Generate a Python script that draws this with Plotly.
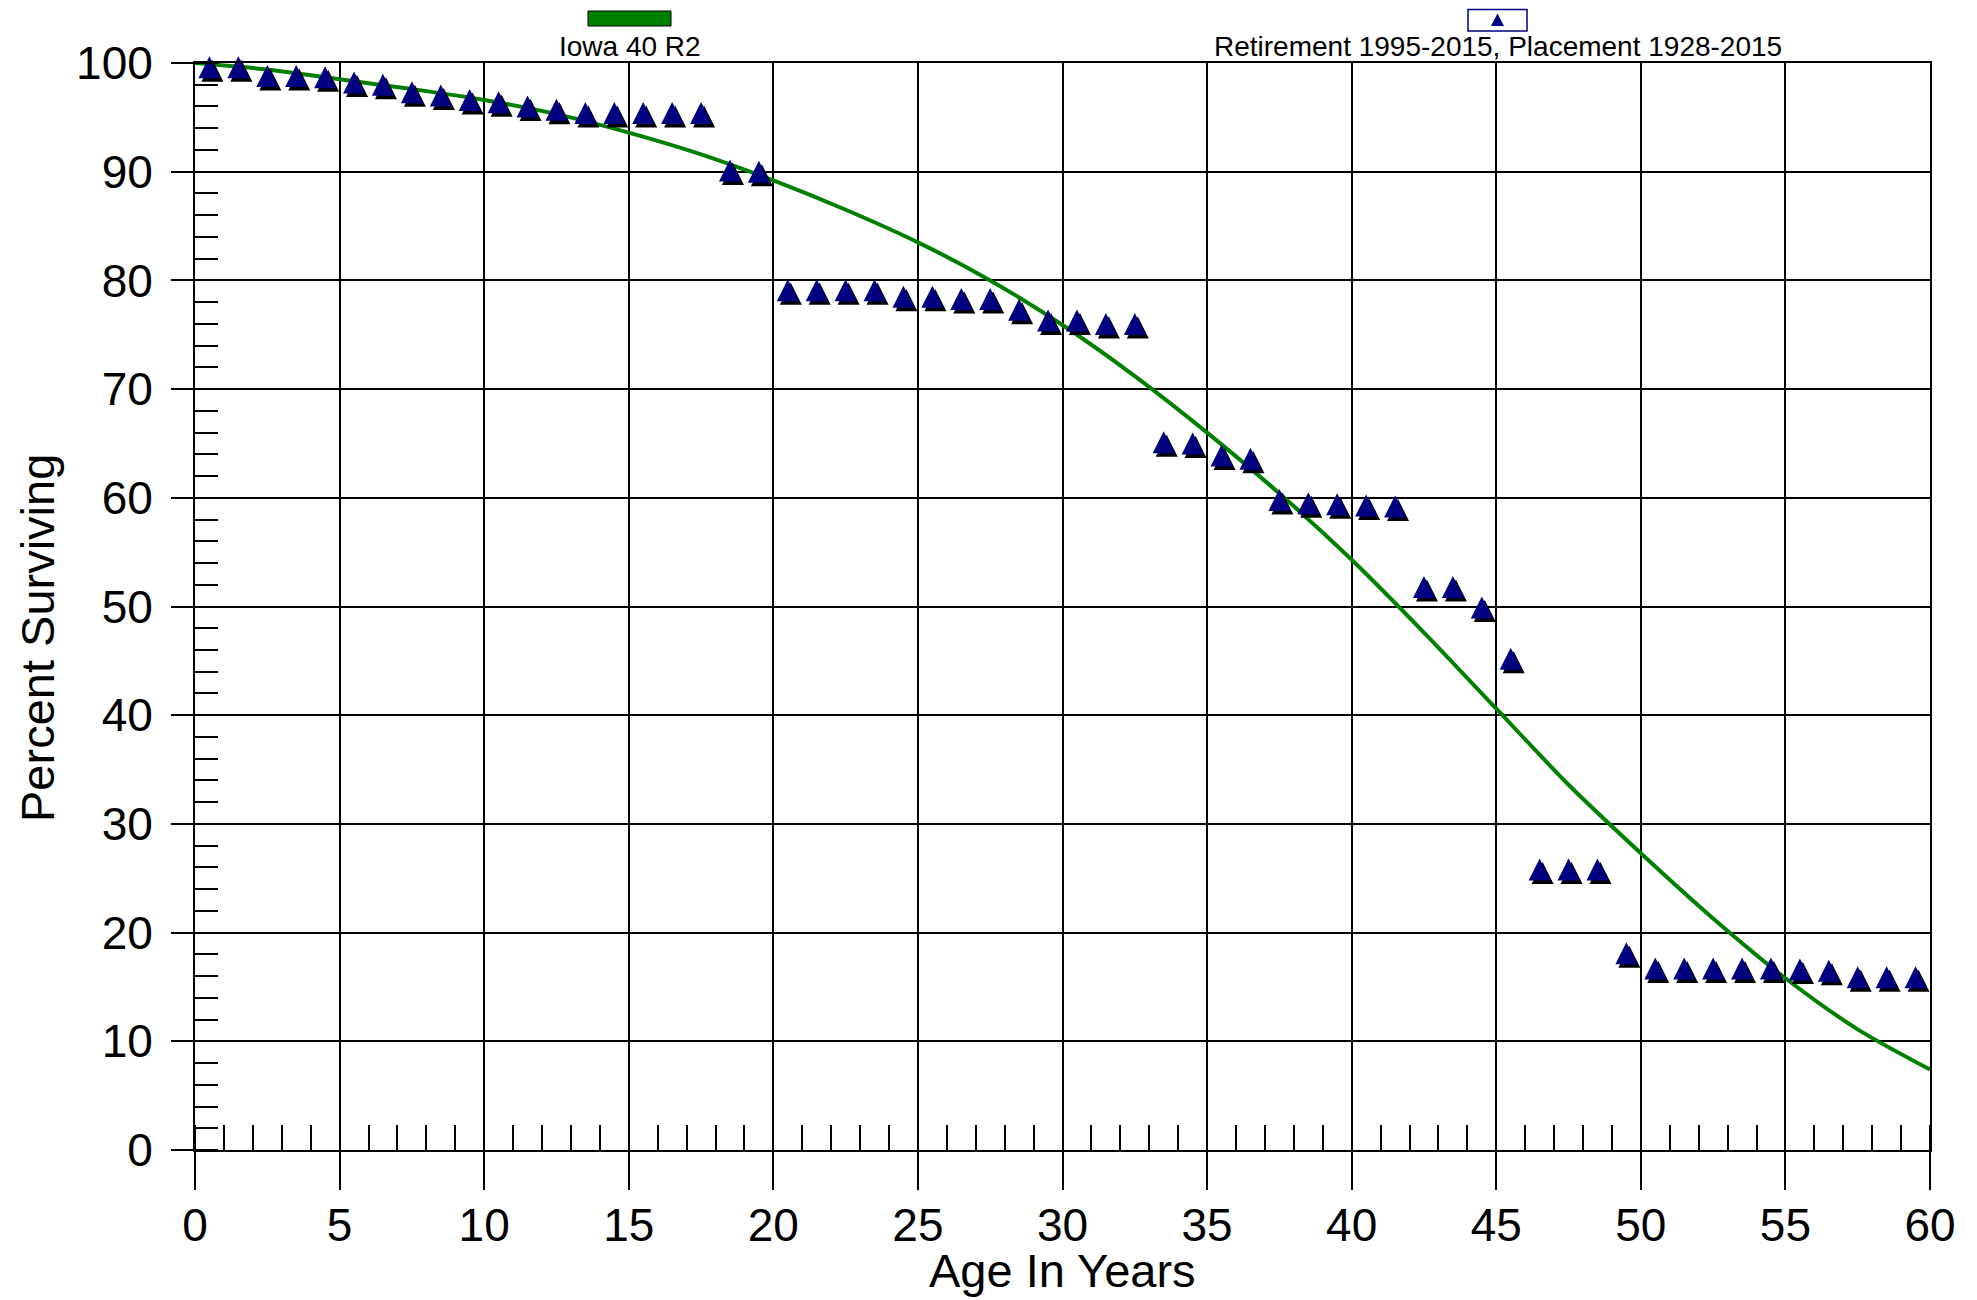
import plotly.graph_objects as go

# ---------------- data ----------------
ages = [0.5, 1.5, 2.5, 3.5, 4.5, 5.5, 6.5, 7.5, 8.5, 9.5,
        10.5, 11.5, 12.5, 13.5, 14.5, 15.5, 16.5, 17.5, 18.5, 19.5,
        20.5, 21.5, 22.5, 23.5, 24.5, 25.5, 26.5, 27.5, 28.5, 29.5,
        30.5, 31.5, 32.5, 33.5, 34.5, 35.5, 36.5, 37.5, 38.5, 39.5,
        40.5, 41.5, 42.5, 43.5, 44.5, 45.5, 46.5, 47.5, 48.5, 49.5,
        50.5, 51.5, 52.5, 53.5, 54.5, 55.5, 56.5, 57.5, 58.5, 59.5]
pct_surviving = [99.6, 99.6, 98.8, 98.8, 98.7, 98.2, 98.0, 97.3, 97.0, 96.6,
                 96.4, 96.0, 95.7, 95.4, 95.4, 95.4, 95.4, 95.4, 90.1, 90.0,
                 79.1, 79.1, 79.1, 79.1, 78.5, 78.5, 78.3, 78.3, 77.3, 76.3,
                 76.3, 76.0, 76.0, 65.1, 65.0, 63.9, 63.6, 59.8, 59.5, 59.4,
                 59.3, 59.2, 51.8, 51.8, 49.9, 45.2, 25.8, 25.8, 25.8, 18.1,
                 16.7, 16.7, 16.7, 16.7, 16.7, 16.6, 16.5, 15.9, 15.9, 15.9]

curve_ages = [0, 2.5, 5, 7.5, 10, 12.5, 15, 17.5, 20, 22.5, 25, 27.5, 30,
              32.5, 35, 37.5, 40, 42.5, 45, 47.5, 50, 52.5, 55, 57.5, 60]
curve_pct = [100.0, 99.4, 98.5, 97.6, 96.6, 95.3, 93.6, 91.6, 89.2, 86.5, 83.5, 80.0, 75.9,
             71.2, 66.0, 60.4, 54.3, 47.6, 40.6, 33.6, 27.3, 21.3, 15.8, 11.1, 7.4]

x_ticks = [0, 5, 10, 15, 20, 25, 30, 35, 40, 45, 50, 55, 60]
y_ticks = [0, 10, 20, 30, 40, 50, 60, 70, 80, 90, 100]

curve_label = "Iowa 40 R2"
obs_label = "Retirement 1995-2015, Placement 1928-2015"
x_title = "Age In Years"
y_title = "Percent Surviving"

# ---------------- layout geometry (screen pixels) ----------------
W, H = 1977, 1300
OFF = 8                      # page body margin of the html page
PL, PR, PT, PB = 195, 1930, 63, 1150   # plot area on screen
PW = PR - PL
PH = PB - PT
L = PL - OFF
T = PT - OFF
R = W - L - PW
B = H - T - PH


def px_x(px):
    return (px - PL) / PW


def px_y(py):
    return (PB - py) / PH


FONT = "Liberation Sans, Arial, sans-serif"
NAVY = "#000080"
GREEN = "#008000"

# shadow offset of the markers (in pixels, converted to data units)
dx = 3.0 * (x_ticks[-1] - x_ticks[0]) / PW
dy = 3.5 * (y_ticks[-1] - y_ticks[0]) / PH

MS = 22
marker_common = dict(symbol="arrow-down", angle=180, size=MS, standoff=MS / 2)

fig = go.Figure()
fig.add_trace(go.Scatter(
    x=curve_ages, y=curve_pct, mode="lines", name=curve_label,
    line=dict(color=GREEN, width=4, shape="spline", smoothing=0.8),
    showlegend=False))
fig.add_trace(go.Scatter(
    x=[a + dx for a in ages], y=[p - dy for p in pct_surviving],
    mode="markers", hoverinfo="skip", showlegend=False, cliponaxis=False,
    marker=dict(**marker_common, color="black")))
fig.add_trace(go.Scatter(
    x=ages, y=pct_surviving, mode="markers", name=obs_label,
    showlegend=False, cliponaxis=False,
    marker=dict(**marker_common, color=NAVY)))

axis_common = dict(
    showgrid=True, gridcolor="black", gridwidth=2,
    showline=True, linecolor="black", linewidth=2, mirror=True,
    zeroline=False, ticks="outside", tickwidth=2, tickcolor="black",
    tickfont=dict(family=FONT, size=46, color="black"),
    automargin=False, fixedrange=True,
)

fig.update_xaxes(
    **axis_common,
    range=[x_ticks[0], x_ticks[-1]], tickmode="linear", tick0=0, dtick=5,
    ticklen=38, ticklabelstandoff=-4,
    minor=dict(ticks="inside", ticklen=25, tickwidth=2, tickcolor="black",
               dtick=1, tick0=0, showgrid=False),
)
fig.update_yaxes(
    **axis_common,
    range=[y_ticks[0], y_ticks[-1]], tickmode="linear", tick0=0, dtick=10,
    ticklen=22, ticklabelstandoff=9,
    minor=dict(ticks="inside", ticklen=23, tickwidth=2, tickcolor="black",
               dtick=2, tick0=0, showgrid=False),
)

shapes = [
    # legend: green bar
    dict(type="rect", xref="paper", yref="paper",
         x0=px_x(588), x1=px_x(671), y0=px_y(26), y1=px_y(11),
         fillcolor=GREEN, line=dict(color="black", width=1)),
    # legend: marker box
    dict(type="rect", xref="paper", yref="paper",
         x0=px_x(1468), x1=px_x(1527), y0=px_y(31), y1=px_y(9.5),
         fillcolor="white", line=dict(color=NAVY, width=1.5)),
    dict(type="path", xref="paper", yref="paper",
         path="M {:.5f},{:.5f} L {:.5f},{:.5f} L {:.5f},{:.5f} Z".format(
             px_x(1491), px_y(26), px_x(1504), px_y(26), px_x(1497.5), px_y(13.5)),
         fillcolor=NAVY, line=dict(color=NAVY, width=0)),
]

annotations = [
    dict(text=curve_label, xref="paper", yref="paper", x=px_x(630), y=px_y(47),
         xanchor="center", yanchor="middle", showarrow=False,
         font=dict(family=FONT, size=28, color="black")),
    dict(text=obs_label, xref="paper", yref="paper", x=px_x(1498), y=px_y(47),
         xanchor="center", yanchor="middle", showarrow=False,
         font=dict(family=FONT, size=28, color="black")),
    # axis titles (placed where the reference has them)
    dict(text=y_title, xref="paper", yref="paper", x=px_x(37), y=px_y(638),
         xanchor="center", yanchor="middle", textangle=-90, showarrow=False,
         font=dict(family=FONT, size=47, color="black")),
    dict(text=x_title, xref="paper", yref="paper", x=0.5, y=px_y(1270),
         xanchor="center", yanchor="middle", showarrow=False,
         font=dict(family=FONT, size=47, color="black")),
]

fig.update_layout(
    width=W, height=H,
    margin=dict(l=L, r=R, t=T, b=B, pad=0),
    paper_bgcolor="white", plot_bgcolor="white",
    font=dict(family=FONT, color="black"),
    shapes=shapes, annotations=annotations,
    showlegend=False,
)

fig.write_html("out.html")
